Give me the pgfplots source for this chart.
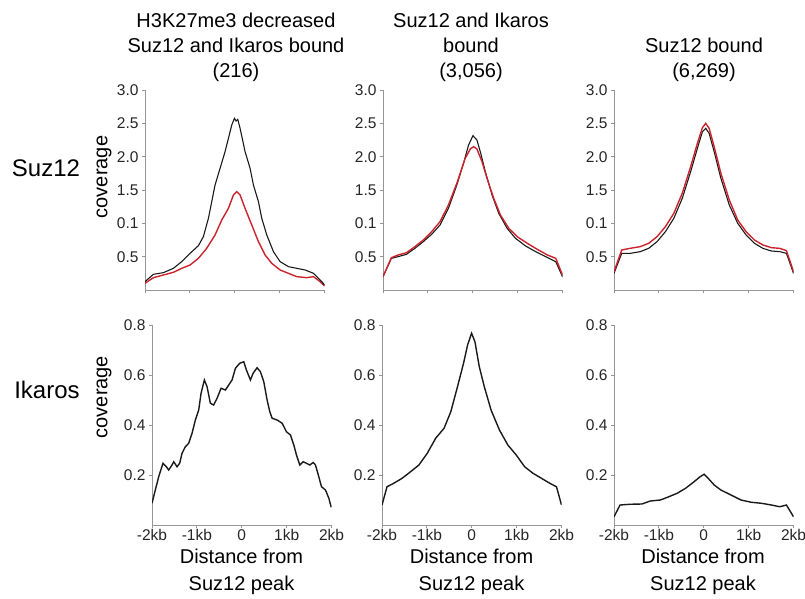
\documentclass[border=0pt]{standalone}
\usepackage{fontspec}
\setmainfont{Liberation Sans}
\usepackage{pgfplots}
\pgfplotsset{compat=1.18}

\definecolor{axgray}{RGB}{150,150,150}
\definecolor{curvered}{RGB}{205,35,45}
\definecolor{curveblack}{RGB}{25,25,25}

\newcommand{\tickfont}{\fontsize{15.5}{17}\selectfont}
\newcommand{\titlefont}{\fontsize{20}{24}\selectfont}

\pgfplotsset{
  panel/.style={
    scale only axis, width=179.5pt, height=200pt,
    xmin=-2, xmax=2, ymin=0,
    axis lines=left,
    axis line style={-, axgray, line width=0.9pt},
    tick style={axgray, line width=0.9pt},
    tick align=outside, major tick length=3pt,
    xtick={-2,-1,0,1,2},
    ticklabel style={font=\tickfont, text=black!85},
    /pgf/number format/assume math mode=true,
    anchor=south west,
  },
  toprow/.style={panel, ymax=3,
    ytick={0.5,1,1.5,2,2.5,3},
    yticklabels={0.5,0.1,1.5,2.0,2.5,3.0},
    xticklabels={},
  },
  botrow/.style={panel, ymax=0.8,
    ytick={0.2,0.4,0.6,0.8},
    yticklabels={0.2,0.4,0.6,0.8},
    xticklabels={-2kb,-1kb,0,1kb,2kb},
    xticklabel style={inner sep=1pt},
  },
  blk/.style={curveblack, line width=1.1pt, no marks},
  blkb/.style={curveblack, line width=1.4pt, no marks},
  rd/.style={curvered, line width=1.4pt, no marks},
}

\begin{document}
\begin{tikzpicture}
\path[use as bounding box] (0,0) rectangle (805pt,-599pt);

% column titles
\node[anchor=base, font=\titlefont] at (236pt,-28pt) {H3K27me3 decreased};
\node[anchor=base, font=\titlefont] at (236pt,-53pt) {Suz12 and Ikaros bound};
\node[anchor=base, font=\titlefont] at (236pt,-78pt) {(216)};
\node[anchor=base, font=\titlefont] at (471pt,-28pt) {Suz12 and Ikaros};
\node[anchor=base, font=\titlefont] at (471pt,-53pt) {bound};
\node[anchor=base, font=\titlefont] at (471pt,-78pt) {(3,056)};
\node[anchor=base, font=\titlefont] at (704pt,-53pt) {Suz12 bound};
\node[anchor=base, font=\titlefont] at (704pt,-78pt) {(6,269)};

% row labels
\node[anchor=base, font=\fontsize{24}{28}\selectfont] at (46pt,-176pt) {Suz12};
\node[anchor=base, font=\fontsize{24}{28}\selectfont] at (47pt,-398pt) {Ikaros};
\node[rotate=90, font=\titlefont] at (104pt,-177pt) {coverage};
\node[rotate=90, font=\titlefont] at (104pt,-397pt) {coverage};

% x labels
\foreach \cx in {241.5,471.5,703} {
  \node[anchor=base, font=\titlefont] at (\cx pt,-563pt) {Distance from};
  \node[anchor=base, font=\titlefont] at (\cx pt,-590pt) {Suz12 peak};
}

%% ---- top row: Suz12 coverage ----
\begin{axis}[toprow, at={(145pt,-290pt)}]
\addplot[rd] coordinates {
  (-2,0.10) (-1.814,0.185) (-1.591,0.225) (-1.368,0.265) (-1.182,0.325)
  (-0.996,0.375) (-0.810,0.475) (-0.625,0.625) (-0.439,0.825) (-0.290,1.05)
  (-0.141,1.225) (-0.030,1.425) (0.045,1.475) (0.119,1.425) (0.230,1.225)
  (0.379,0.975) (0.528,0.725) (0.677,0.525) (0.825,0.40) (1.011,0.30)
  (1.197,0.25) (1.383,0.20) (1.606,0.185) (1.755,0.20) (1.903,0.125) (2.0,0.06)
};
\addplot[blk] coordinates {
  (-2,0.125) (-1.814,0.235) (-1.591,0.26) (-1.368,0.325) (-1.182,0.425)
  (-0.996,0.55) (-0.810,0.665) (-0.699,0.80) (-0.587,1.075) (-0.513,1.325)
  (-0.439,1.575) (-0.327,1.825) (-0.216,2.075) (-0.141,2.275) (-0.067,2.475)
  (-0.007,2.575) (0.030,2.535) (0.067,2.56) (0.119,2.425) (0.230,2.075)
  (0.342,1.825) (0.416,1.575) (0.528,1.325) (0.602,1.075) (0.714,0.825)
  (0.862,0.575) (1.011,0.425) (1.197,0.35) (1.383,0.325) (1.569,0.30)
  (1.755,0.25) (1.941,0.125) (2.0,0.075)
};
\end{axis}

\begin{axis}[toprow, at={(383pt,-290pt)}]
\addplot[blk] coordinates {
  (-2,0.20) (-1.813,0.475) (-1.664,0.50) (-1.477,0.535) (-1.290,0.625)
  (-1.103,0.725) (-0.916,0.835) (-0.729,0.975) (-0.542,1.225) (-0.355,1.575)
  (-0.206,1.90) (-0.093,2.175) (0.004,2.315) (0.093,2.25) (0.168,2.075)
  (0.280,1.775) (0.430,1.425) (0.579,1.15) (0.766,0.925) (0.953,0.775)
  (1.178,0.66) (1.402,0.575) (1.626,0.50) (1.850,0.425) (2.0,0.20)
};
\addplot[rd] coordinates {
  (-2,0.2) (-1.813,0.485) (-1.664,0.525) (-1.477,0.56) (-1.290,0.65)
  (-1.103,0.75) (-0.916,0.875) (-0.729,1.025) (-0.542,1.275) (-0.355,1.60)
  (-0.168,1.975) (-0.056,2.115) (0.019,2.15) (0.093,2.115) (0.206,1.925)
  (0.318,1.675) (0.467,1.375) (0.617,1.125) (0.804,0.925) (0.991,0.80)
  (1.215,0.70) (1.439,0.61) (1.664,0.525) (1.850,0.475) (2.0,0.225)
};
\end{axis}

\begin{axis}[toprow, at={(614pt,-290pt)}]
\addplot[blk] coordinates {
  (-2,0.25) (-1.828,0.55) (-1.640,0.55) (-1.416,0.575) (-1.228,0.625)
  (-1.041,0.725) (-0.854,0.875) (-0.667,1.075) (-0.479,1.375) (-0.292,1.775)
  (-0.142,2.125) (-0.030,2.375) (0.045,2.425) (0.120,2.35) (0.232,2.075)
  (0.382,1.675) (0.569,1.275) (0.757,1.0) (0.944,0.825) (1.131,0.70)
  (1.318,0.625) (1.506,0.585) (1.693,0.575) (1.843,0.55) (2.0,0.25)
};
\addplot[rd] coordinates {
  (-2,0.275) (-1.828,0.60) (-1.640,0.625) (-1.416,0.65) (-1.228,0.70)
  (-1.041,0.80) (-0.854,0.95) (-0.667,1.15) (-0.479,1.45) (-0.292,1.85)
  (-0.142,2.20) (-0.030,2.435) (0.045,2.50) (0.120,2.425) (0.232,2.15)
  (0.382,1.75) (0.569,1.35) (0.757,1.05) (0.944,0.875) (1.131,0.75)
  (1.318,0.675) (1.506,0.635) (1.693,0.625) (1.843,0.59) (2.0,0.275)
};
\end{axis}

%% ---- bottom row: Ikaros coverage ----
\begin{axis}[botrow, at={(152pt,-525pt)}]
\addplot[blkb] coordinates {
  (-2,0.087) (-1.926,0.14) (-1.851,0.193) (-1.755,0.247) (-1.680,0.233)
  (-1.628,0.22) (-1.554,0.24) (-1.517,0.253) (-1.442,0.233) (-1.383,0.247)
  (-1.331,0.287) (-1.257,0.313) (-1.182,0.327) (-1.108,0.367) (-1.033,0.42)
  (-0.959,0.46) (-0.907,0.527) (-0.833,0.58) (-0.773,0.553) (-0.699,0.487)
  (-0.625,0.48) (-0.550,0.507) (-0.461,0.547) (-0.364,0.54) (-0.290,0.56)
  (-0.216,0.58) (-0.141,0.627) (-0.045,0.647) (0.045,0.653) (0.104,0.62)
  (0.193,0.58) (0.253,0.607) (0.342,0.629) (0.416,0.613) (0.491,0.573)
  (0.565,0.50) (0.625,0.453) (0.677,0.427) (0.788,0.42) (0.900,0.407)
  (0.996,0.373) (1.086,0.36) (1.160,0.32) (1.219,0.28) (1.294,0.24)
  (1.368,0.253) (1.442,0.247) (1.517,0.24) (1.591,0.25) (1.643,0.24)
  (1.717,0.193) (1.777,0.153) (1.866,0.14) (1.941,0.107) (1.993,0.071)
};
\end{axis}

\begin{axis}[botrow, at={(382pt,-525pt)}]
\addplot[blkb] coordinates {
  (-2,0.08) (-1.888,0.153) (-1.738,0.167) (-1.551,0.187) (-1.364,0.213)
  (-1.178,0.24) (-0.991,0.287) (-0.804,0.347) (-0.617,0.387) (-0.467,0.453)
  (-0.318,0.553) (-0.183,0.647) (-0.093,0.72) (-0.004,0.767) (0.071,0.733)
  (0.168,0.633) (0.280,0.553) (0.430,0.46) (0.617,0.38) (0.804,0.32)
  (0.991,0.28) (1.178,0.233) (1.364,0.207) (1.551,0.187) (1.738,0.167)
  (1.888,0.153) (2.0,0.08)
};
\end{axis}

\begin{axis}[botrow, at={(614pt,-525pt)}]
\addplot[blkb] coordinates {
  (-2,0.033) (-1.865,0.08) (-1.640,0.083) (-1.378,0.084) (-1.191,0.096)
  (-0.966,0.10) (-0.779,0.113) (-0.592,0.127) (-0.404,0.147) (-0.217,0.173)
  (-0.082,0.193) (0.007,0.203) (0.097,0.187) (0.232,0.16) (0.382,0.14)
  (0.607,0.12) (0.831,0.10) (1.056,0.091) (1.281,0.087) (1.506,0.08)
  (1.693,0.073) (1.843,0.08) (2.0,0.033)
};
\end{axis}
\end{tikzpicture}
\end{document}
